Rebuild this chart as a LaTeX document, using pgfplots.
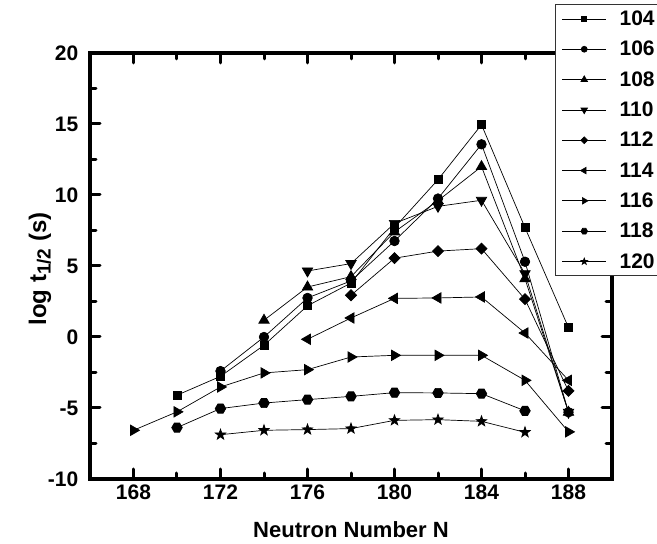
\documentclass[border=0pt]{standalone}
\usepackage{pgfplots}
\pgfplotsset{compat=1.18}
\usepackage{fontspec}
\setmainfont{Liberation Sans}
\usetikzlibrary{plotmarks}

\pgfdeclareplotmark{hexagon*}{%
  \pgfpathmoveto{\pgfqpointpolar{0}{\pgfplotmarksize}}%
  \pgfpathlineto{\pgfqpointpolar{60}{\pgfplotmarksize}}%
  \pgfpathlineto{\pgfqpointpolar{120}{\pgfplotmarksize}}%
  \pgfpathlineto{\pgfqpointpolar{180}{\pgfplotmarksize}}%
  \pgfpathlineto{\pgfqpointpolar{240}{\pgfplotmarksize}}%
  \pgfpathlineto{\pgfqpointpolar{300}{\pgfplotmarksize}}%
  \pgfpathclose
  \pgfusepathqfillstroke}
\pgfdeclareplotmark{fstar*}{%
  \pgfpathmoveto{\pgfqpointpolar{90}{\pgfplotmarksize}}%
  \pgfpathlineto{\pgfqpointpolar{126}{0.40\pgfplotmarksize}}%
  \pgfpathlineto{\pgfqpointpolar{162}{\pgfplotmarksize}}%
  \pgfpathlineto{\pgfqpointpolar{198}{0.40\pgfplotmarksize}}%
  \pgfpathlineto{\pgfqpointpolar{234}{\pgfplotmarksize}}%
  \pgfpathlineto{\pgfqpointpolar{270}{0.40\pgfplotmarksize}}%
  \pgfpathlineto{\pgfqpointpolar{306}{\pgfplotmarksize}}%
  \pgfpathlineto{\pgfqpointpolar{342}{0.40\pgfplotmarksize}}%
  \pgfpathlineto{\pgfqpointpolar{18}{\pgfplotmarksize}}%
  \pgfpathlineto{\pgfqpointpolar{54}{0.40\pgfplotmarksize}}%
  \pgfpathclose
  \pgfusepathqfillstroke}

\begin{document}
\begin{tikzpicture}
\begin{axis}[
  scale only axis, width=522bp, height=426bp,
  at={(0,0)}, anchor=south west,
  line width=3.5bp,
  xmin=166, xmax=190, ymin=-10, ymax=20,
  xtick={168,172,...,188}, minor x tick num=1,
  ytick={-10,-5,...,20}, minor y tick num=1,
  xtick pos=both, ytick pos=both,
  xticklabel pos=bottom, yticklabel pos=left,
  tick align=inside,
  major tick length=10bp, minor tick length=6bp,
  major tick style={black, line width=3bp, line cap=round},
  minor tick style={black, line width=3bp, line cap=round},
  /pgf/number format/assume math mode=true,
  tick label style={font=\fontsize{21bp}{25bp}\selectfont\bfseries},
  xticklabel style={anchor=north, inner sep=0pt, yshift=-4bp},
  yticklabel style={anchor=east, inner sep=0pt, xshift=-10bp},
  xlabel={Neutron Number N},
  ylabel={log t\raisebox{-4.5bp}{\fontsize{19bp}{19bp}\selectfont 1/2} (s)},
  every axis x label/.style={at={(axis description cs:0.5,0)}, anchor=center, yshift=-51bp, font=\fontsize{22bp}{26bp}\selectfont\bfseries},
  every axis y label/.style={at={(axis description cs:-0.0958,0.493)}, anchor=center, rotate=90, font=\fontsize{24bp}{28bp}\selectfont\bfseries},
  every axis plot/.append style={black, line width=0.7bp},
  legend style={at={(axis description cs:0.8908,0.4765)}, anchor=south west,
    draw=black!80, line width=0.8bp, fill=white,
    inner xsep=6.5bp, inner ysep=4bp,
    nodes={inner sep=2bp},
    row sep=10.2bp, column sep=11bp,
    font=\fontsize{21bp}{25bp}\selectfont\bfseries},
  legend cell align=left,
  legend image code/.code={\draw[mark repeat=2, mark phase=2, #1, every mark/.append style={scale=0.62}] plot coordinates {(0bp,0bp) (22bp,0bp) (44bp,0bp)};},
]
\addplot[mark=square*, mark size=3.9bp] coordinates {
(170,-4.1)(172,-2.77)(174,-0.58)(176,2.2)(178,3.8)(180,7.7)(182,11.08)(184,14.95)(186,7.7)(188,0.66)};
\addlegendentry{104}
\addplot[mark=*, mark size=4.8bp] coordinates {
(172,-2.4)(174,0.0)(176,2.75)(178,3.95)(180,6.76)(182,9.75)(184,13.57)(186,5.3)(188,-5.3)};
\addlegendentry{106}
\addplot[mark=triangle*, mark size=6bp] coordinates {
(174,1.18)(176,3.52)(178,4.25)(180,7.4)(182,9.6)(184,12.0)(186,4.1)(188,-5.3)};
\addlegendentry{108}
\addplot[mark=triangle*, mark size=6bp, mark options={rotate=180}] coordinates {
(176,4.65)(178,5.17)(180,8.0)(182,9.2)(184,9.63)(186,4.46)(188,-5.3)};
\addlegendentry{110}
\addplot[mark=square*, mark size=3.9bp, mark options={rotate=45}] coordinates {
(178,2.94)(180,5.55)(182,6.05)(184,6.22)(186,2.66)(188,-3.8)};
\addlegendentry{112}
\addplot[mark=triangle*, mark size=6bp, mark options={rotate=90}] coordinates {
(176,-0.16)(178,1.34)(180,2.72)(182,2.75)(184,2.82)(186,0.28)(188,-3.05)};
\addlegendentry{114}
\addplot[mark=triangle*, mark size=6bp, mark options={rotate=-90}] coordinates {
(168,-6.57)(170,-5.27)(172,-3.52)(174,-2.53)(176,-2.3)(178,-1.41)(180,-1.29)(182,-1.29)(184,-1.29)(186,-3.05)(188,-6.68)};
\addlegendentry{116}
\addplot[mark=hexagon*, mark size=5.3bp] coordinates {
(170,-6.38)(172,-5.04)(174,-4.65)(176,-4.41)(178,-4.18)(180,-3.92)(182,-3.94)(184,-3.99)(186,-5.2)};
\addlegendentry{118}
\addplot[mark=fstar*, mark size=5.5bp] coordinates {
(172,-6.88)(174,-6.57)(176,-6.52)(178,-6.45)(180,-5.87)(182,-5.82)(184,-5.94)(186,-6.71)};
\addlegendentry{120}
\end{axis}
\pgfresetboundingbox
\useasboundingbox (-90bp,-65bp) rectangle (567bp,479bp);
\end{tikzpicture}
\end{document}
